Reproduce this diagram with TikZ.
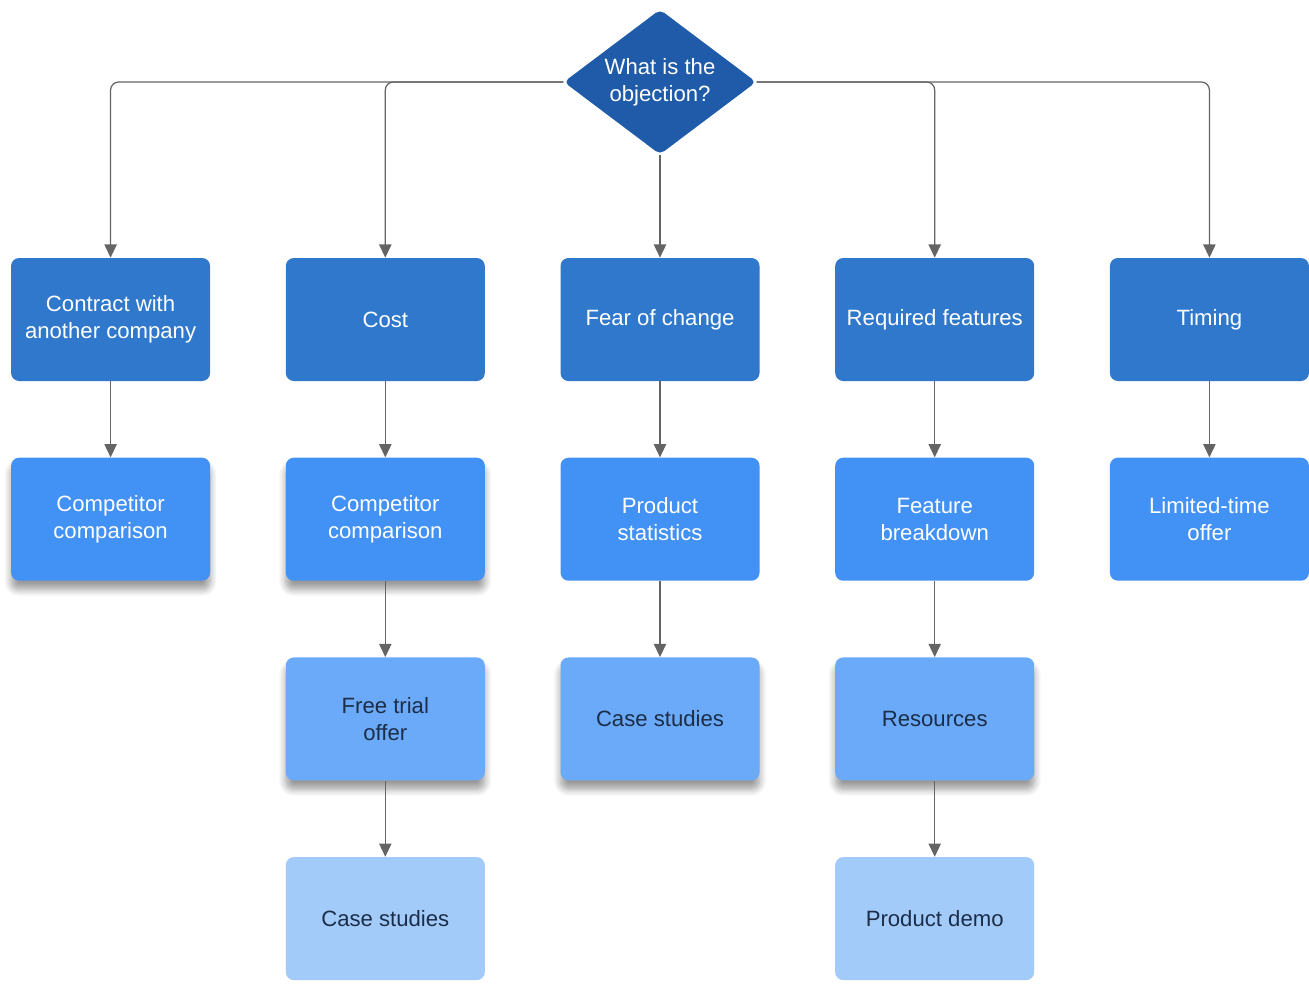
\documentclass[tikz,border=0pt]{standalone}
\usepackage{fontspec}
\setmainfont{Liberation Sans}
\usetikzlibrary{arrows.meta,positioning,shapes.geometric,shadows.blur}
\definecolor{objDarkBlue}{RGB}{31,91,168}
\definecolor{objBlue}{RGB}{47,120,204}
\definecolor{objMidBlue}{RGB}{66,145,245}
\definecolor{objLightBlue}{RGB}{107,170,248}
\definecolor{objPaleBlue}{RGB}{163,203,250}
\definecolor{objNavy}{RGB}{28,45,72}
\definecolor{objLine}{RGB}{100,100,100}

\begin{document}
\begin{tikzpicture}[>={Triangle[width=7pt,length=7.5pt]},node distance=1.52cm and 1.50cm,
  box/.style={rounded corners=0.16cm,minimum width=3.98cm,minimum height=2.46cm,align=center,inner sep=2pt,font=\fontsize{12.6}{15.3}\selectfont},
  lvlone/.style={box,fill=objBlue,text=white},
  lvltwo/.style={box,fill=objMidBlue,text=white},
  lvlthree/.style={box,fill=objLightBlue,text=objNavy},
  lvlfour/.style={box,fill=objPaleBlue,text=objNavy},
  shade/.style={blur shadow={shadow xshift=0pt,shadow yshift=-5pt,shadow blur steps=8,shadow blur radius=4pt,shadow opacity=40}},
  link/.style={->,draw=objLine,line width=0.7pt,rounded corners=0.16cm}]
\useasboundingbox (0,0) rectangle (26.18,-19.68);
\node[diamond,aspect=1.35,fill=objDarkBlue,text=white,rounded corners=3pt,minimum width=3.85cm,minimum height=2.9cm,inner sep=0pt,align=center,font=\fontsize{12.6}{15.3}\selectfont] (obj) at (13.2,-1.64) {What is the\\objection?};
% first level
\node[lvlone] (fear) at (13.2,-6.39) {Fear of change};
\node[lvlone,left=of fear] (cost) {Cost};
\node[lvlone,left=of cost] (contract) {Contract with\\another company};
\node[lvlone,right=of fear] (feat) {Required features};
\node[lvlone,right=of feat] (timing) {Timing};
% second level
\node[lvltwo,shade,below=of contract] (comp1) {Competitor\\comparison};
\node[lvltwo,shade,below=of cost] (comp2) {Competitor\\comparison};
\node[lvltwo,below=of fear] (stats) {Product\\statistics};
\node[lvltwo,below=of feat] (brk) {Feature\\breakdown};
\node[lvltwo,below=of timing] (ltd) {Limited-time\\offer};
% third and fourth level
\node[lvlthree,shade,below=of comp2] (trial) {Free trial\\offer};
\node[lvlthree,shade,below=of stats] (case1) {Case studies};
\node[lvlthree,shade,below=of brk] (res) {Resources};
\node[lvlfour,below=of trial] (case2) {Case studies};
\node[lvlfour,below=of res] (demo) {Product demo};
\draw[link] (obj.west) -| (contract.north);
\draw[link] (obj.west) -| (cost.north);
\draw[link] (obj.south) -- (fear.north);
\draw[link] (obj.east) -| (feat.north);
\draw[link] (obj.east) -| (timing.north);
\draw[link] (contract) -- (comp1);
\draw[link] (cost) -- (comp2);
\draw[link] (fear) -- (stats);
\draw[link] (feat) -- (brk);
\draw[link] (timing) -- (ltd);
\draw[link] (comp2) -- (trial);
\draw[link] (stats) -- (case1);
\draw[link] (brk) -- (res);
\draw[link] (trial) -- (case2);
\draw[link] (res) -- (demo);
\end{tikzpicture}
\end{document}
